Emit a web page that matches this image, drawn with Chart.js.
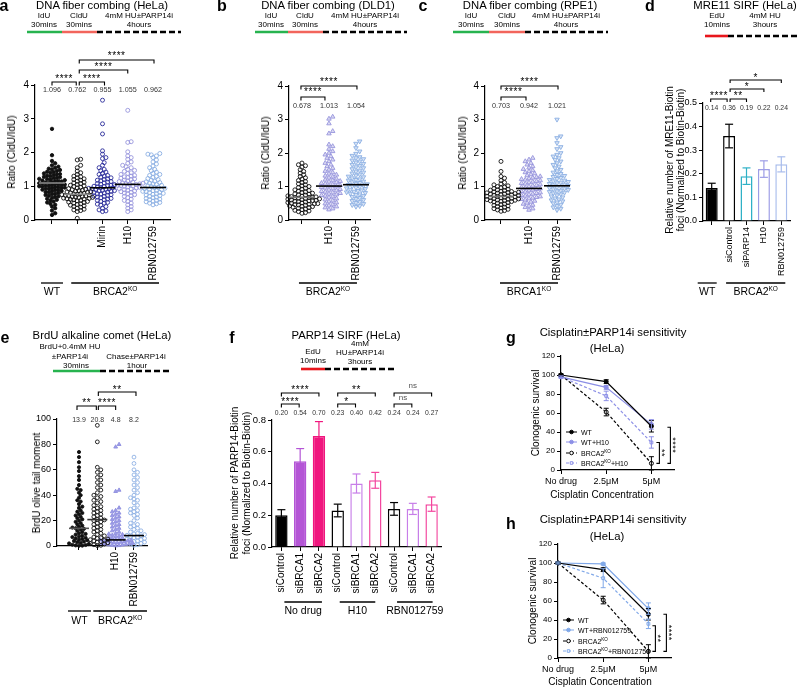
<!DOCTYPE html>
<html><head><meta charset="utf-8"><title>PARP14 figure</title>
<script src="https://cdn.jsdelivr.net/npm/chart.js@4.4.1/dist/chart.umd.min.js"></script>
<style>
html,body{margin:0;padding:0;background:#fff;}
#wrap{position:relative;width:800px;height:688px;overflow:hidden;font-family:'Liberation Sans',Arial,Helvetica,sans-serif;color:#000;}
#wrap canvas{position:absolute;left:0;top:0;}
#wrap svg{position:absolute;left:0;top:0;}
.t{position:absolute;white-space:nowrap;line-height:1;transform:translate(-50%,-50%);}
.t sup{font-size:0.62em;line-height:0;vertical-align:0.55em;}
</style></head>
<body><div id="wrap"><svg id="deco" width="800" height="688"></svg></div>
<script>
// ================= DATA =================
// Panel a: DNA fiber combing (HeLa) - CldU/IdU ratio
const aTickLabels = ['', '', 'Mirin', 'H10', 'RBN012759'];
const aMeans = [1.096, 0.762, 0.955, 1.055, 0.962];
const aWT = [2.70,1.92,1.75,1.68,1.62,1.58,1.55,1.52,1.50,1.48,1.45,1.43,1.42,1.40,1.38,1.36,1.35,1.33,1.31,1.30,1.28,1.27,1.25,1.24,1.22,1.21,1.20,1.18,1.17,1.16,1.15,1.14,1.12,1.11,1.10,1.09,1.08,1.07,1.06,1.05,1.04,1.03,1.02,1.01,1.00,0.99,0.98,0.97,0.96,0.95,0.94,0.93,0.92,0.90,0.89,0.88,0.86,0.85,0.83,0.82,0.80,0.78,0.76,0.74,0.72,0.70,0.68,0.66,0.63,0.60,0.58,0.55,0.52,0.48,0.45,0.40,0.35,0.28,0.20,0.15];
const aKO = [1.80,1.78,1.62,1.55,1.45,1.40,1.35,1.30,1.28,1.25,1.22,1.20,1.18,1.15,1.12,1.10,1.08,1.05,1.03,1.01,0.99,0.97,0.95,0.93,0.91,0.90,0.88,0.87,0.85,0.84,0.83,0.82,0.80,0.79,0.78,0.77,0.76,0.75,0.74,0.73,0.72,0.71,0.70,0.69,0.68,0.67,0.66,0.65,0.64,0.63,0.62,0.61,0.60,0.58,0.57,0.55,0.53,0.52,0.50,0.48,0.46,0.44,0.42,0.40,0.38,0.35,0.32,0.30,0.28,0.25,0.05];
const aMirin = [3.55,2.85,2.55,2.05,1.95,1.85,1.82,1.70,1.62,1.55,1.50,1.46,1.42,1.38,1.35,1.32,1.30,1.27,1.25,1.22,1.20,1.18,1.16,1.14,1.12,1.10,1.08,1.06,1.05,1.03,1.02,1.00,0.99,0.98,0.96,0.95,0.94,0.93,0.92,0.91,0.90,0.88,0.87,0.86,0.85,0.83,0.82,0.80,0.78,0.77,0.75,0.73,0.71,0.70,0.68,0.66,0.64,0.62,0.60,0.58,0.55,0.52,0.50,0.47,0.44,0.40,0.35,0.30,0.27,0.25];
const aH10 = [3.25,2.32,2.30,2.02,1.90,1.85,1.80,1.72,1.68,1.62,1.58,1.55,1.50,1.47,1.44,1.40,1.38,1.35,1.32,1.30,1.28,1.26,1.24,1.22,1.20,1.18,1.16,1.14,1.12,1.10,1.09,1.08,1.07,1.06,1.05,1.04,1.03,1.02,1.01,1.00,0.98,0.97,0.95,0.93,0.92,0.90,0.88,0.86,0.84,0.82,0.80,0.78,0.75,0.72,0.70,0.66,0.62,0.58,0.55,0.50,0.45,0.40,0.35,0.30,0.25];
const aRBN = [1.97,1.95,1.93,1.90,1.85,1.78,1.72,1.66,1.60,1.55,1.50,1.46,1.42,1.38,1.35,1.32,1.29,1.26,1.23,1.20,1.18,1.15,1.13,1.11,1.09,1.07,1.05,1.03,1.01,0.99,0.97,0.96,0.94,0.93,0.91,0.90,0.88,0.87,0.85,0.84,0.82,0.81,0.79,0.78,0.76,0.74,0.72,0.70,0.68,0.66,0.64,0.62,0.60,0.58,0.56,0.54,0.52,0.50,0.48,0.45];

// Panel b: DNA fiber combing (DLD1)
const bTickLabels = ['', 'H10', 'RBN012759'];
const bMeans = [0.678, 1.013, 1.054];
const bKO = [1.70,1.65,1.62,1.58,1.50,1.45,1.40,1.35,1.30,1.26,1.22,1.18,1.15,1.12,1.08,1.05,1.02,1.00,0.97,0.95,0.92,0.90,0.88,0.86,0.84,0.82,0.80,0.78,0.77,0.75,0.74,0.72,0.71,0.70,0.69,0.68,0.67,0.66,0.65,0.64,0.63,0.62,0.61,0.60,0.59,0.58,0.57,0.56,0.55,0.54,0.53,0.52,0.51,0.50,0.49,0.48,0.47,0.46,0.45,0.44,0.42,0.41,0.40,0.38,0.37,0.35,0.33,0.31,0.29,0.27,0.25,0.22,0.20];
const bH10 = [3.08,3.02,2.88,2.65,2.58,2.25,2.20,2.12,2.05,2.00,1.95,1.90,1.85,1.80,1.75,1.70,1.65,1.60,1.55,1.50,1.46,1.42,1.38,1.35,1.32,1.29,1.26,1.23,1.20,1.18,1.16,1.14,1.12,1.10,1.08,1.06,1.04,1.02,1.00,0.98,0.96,0.94,0.92,0.90,0.88,0.86,0.84,0.82,0.80,0.78,0.76,0.74,0.72,0.70,0.67,0.64,0.61,0.58,0.55,0.52,0.49,0.46,0.43,0.40,0.37,0.34,0.31];
const bRBN = [2.35,2.28,2.15,2.05,1.98,1.92,1.88,1.85,1.82,1.78,1.75,1.72,1.68,1.65,1.62,1.58,1.55,1.52,1.48,1.45,1.42,1.39,1.36,1.33,1.30,1.28,1.25,1.22,1.20,1.18,1.15,1.13,1.11,1.09,1.07,1.05,1.03,1.01,0.99,0.97,0.95,0.93,0.91,0.89,0.87,0.85,0.83,0.81,0.79,0.77,0.75,0.72,0.69,0.66,0.63,0.60,0.57,0.54,0.51,0.48,0.45,0.42,0.40];

// Panel c: DNA fiber combing (RPE1)
const cTickLabels = ['', 'H10', 'RBN012759'];
const cMeans = [0.703, 0.942, 1.021];
const cKO = [1.75,1.45,1.30,1.25,1.18,1.12,1.08,1.05,1.02,1.00,0.98,0.96,0.94,0.92,0.90,0.89,0.88,0.86,0.85,0.84,0.83,0.82,0.81,0.80,0.79,0.78,0.77,0.76,0.75,0.74,0.73,0.72,0.71,0.70,0.69,0.68,0.67,0.66,0.65,0.64,0.63,0.62,0.61,0.60,0.59,0.58,0.57,0.56,0.55,0.54,0.52,0.50,0.48,0.46,0.44,0.42,0.40,0.38,0.36,0.34,0.32,0.30,0.28,0.26];
const cH10 = [1.85,1.80,1.75,1.70,1.65,1.60,1.56,1.52,1.48,1.45,1.42,1.39,1.36,1.33,1.30,1.28,1.26,1.24,1.22,1.20,1.18,1.16,1.14,1.12,1.10,1.08,1.06,1.04,1.02,1.00,0.98,0.96,0.94,0.92,0.90,0.88,0.86,0.84,0.82,0.80,0.78,0.76,0.74,0.72,0.70,0.68,0.66,0.64,0.62,0.60,0.57,0.54,0.51,0.48,0.45,0.42,0.38,0.34,0.30];
const cRBN = [3.00,2.50,2.45,2.30,2.18,2.12,2.00,1.95,1.90,1.85,1.80,1.75,1.70,1.65,1.60,1.55,1.50,1.46,1.42,1.38,1.35,1.32,1.29,1.26,1.23,1.20,1.18,1.16,1.14,1.12,1.10,1.08,1.06,1.04,1.02,1.00,0.98,0.96,0.94,0.92,0.90,0.88,0.86,0.84,0.82,0.80,0.77,0.74,0.71,0.68,0.65,0.62,0.59,0.56,0.53,0.50,0.46,0.42,0.38,0.34,0.30];

// Panel d: MRE11 SIRF (HeLa)
const dTickLabels = ['', 'siControl', 'siPARP14', 'H10', 'RBN012759'];
const dMeans = [0.14, 0.36, 0.19, 0.22, 0.24];
const dErr = [0.02, 0.05, 0.035, 0.035, 0.032];

// Panel e: BrdU alkaline comet (HeLa)
const eTickLabels = ['', '', 'H10', 'RBN012759'];
const eMeans = [13.9, 20.8, 4.8, 8.2];
const eWT = [74,70,66,62,59,55,52,48,45,44,42,40,38,36,35,33,31,30,28,27,26,25,24,23,22,21,20,19,18,17,16,15,14.5,14,13.5,13,12,11,10,9.5,9,8,7.5,7,6.5,6,5.5,5,4.5,4,3.5,3,2.5,2,1.5,1,0.8,0.5,0.3,0.2];
const eKO = [95,82,62,60,58,56,54,52,50,48,46,44,42,40,39,38,36,35,34,32,31,30,29,28,27,26,25,24,23,22,21,20.5,20,19,18,17,16,15,14,13,12,11,10,9,8,7,6.5,6,5.5,5,4.5,4,3.5,3,2.5,2,1.5,1,0.5,0.3];
const eH10 = [80,78,44,43,30,28,27,26,25,24,23,22,21,20,19,18,17,16,15,14,13,12,11,10,9.5,9,8.5,8,7.5,7,6.5,6,5.5,5,4.8,4.5,4.2,4,3.8,3.5,3.2,3,2.8,2.5,2.2,2,1.8,1.5,1.2,1,0.8,0.6,0.4,0.2];
const eRBN = [70,65,60,58,56,54,52,50,48,46,44,42,40,38,37,36,34,32,30,29,28,27,26,25,24,22,20,18,17,16,15,14,13,12,11,10,9.5,9,8.5,8,7.5,7,6.5,6,5.5,5,4.5,4,3.5,3,2.5,2,1.5,1,0.5];

// Panel f: PARP14 SIRF (HeLa)
const fTickLabels = ['siControl','siBRCA1','siBRCA2','siControl','siBRCA1','siBRCA2','siControl','siBRCA1','siBRCA2'];
const fMeans = [0.20, 0.54, 0.70, 0.23, 0.40, 0.42, 0.24, 0.24, 0.27];
const fErr = [0.035, 0.08, 0.09, 0.04, 0.06, 0.05, 0.04, 0.035, 0.045];

// Panels g / h: clonogenic survival
const doseIdx = [0, 1, 2];
const doseLabels = ['No drug', '2.5\u03bcM', '5\u03bcM'];
const gWT = [100, 93, 46],      gWTErr = [1, 2, 6];
const gWTH10 = [98, 87, 48],    gWTH10Err = [1, 2, 5];
const gKO = [100, 61, 7],       gKOErr = [1, 4, 7];
const gKOH10 = [98, 78, 29],    gKOH10Err = [1, 5, 6];
const hWT = [100, 93, 46],      hWTErr = [1, 2, 6];
const hWTRBN = [100, 99, 52],   hWTRBNErr = [1, 1, 6];
const hKO = [100, 61, 7],       hKOErr = [1, 4, 7];
const hKORBN = [100, 84, 36],   hKORBNErr = [1, 10, 5];

// ================= SETUP =================
const F = "'Liberation Sans', Arial, sans-serif";
Chart.defaults.font.family = F;
Chart.defaults.color = '#000';
Chart.defaults.animation = false;
Chart.defaults.responsive = false;
Chart.defaults.devicePixelRatio = 1;
Chart.defaults.events = [];
Chart.defaults.plugins.legend.display = false;
Chart.defaults.plugins.tooltip.enabled = false;

const YW = 30;
const wrap = document.getElementById('wrap');
function canvas(){ const c=document.createElement('canvas'); c.width=800; c.height=688; c.style.width='800px'; c.style.height='688px'; wrap.appendChild(c); return c; }
function pad(L,R,T,B,XH){ return {padding:{left:L-YW,right:800-R,top:T,bottom:688-B-XH}}; }
const GRID = {drawOnChartArea:false, drawTicks:true, tickLength:4, tickWidth:1, tickColor:'#000', color:'#000'};
const BORDER = {display:true, color:'#000', width:1.2};
function yAxis(min,max,step,size,dec){
  return {type:'linear', min, max,
    afterFit:s=>{s.width=YW;},
    afterBuildTicks:s=>{const t=[]; for(let v=min; v<=max+1e-9; v+=step) t.push({value:+v.toFixed(6)}); s.ticks=t;},
    ticks:{font:{size}, padding:2, color:'#000', callback:v=> dec? Number(v).toFixed(dec) : String(v)},
    grid:GRID, border:BORDER};
}
function xLinCat(min,max,labels,size,rot,XH){
  return {type:'linear', min, max,
    afterFit:s=>{s.height=XH;},
    afterBuildTicks:s=>{s.ticks=labels.map((l,i)=>({value:i}));},
    ticks:{font:{size}, padding:2, color:'#000', minRotation:rot, maxRotation:rot, autoSkip:false, callback:v=>labels[v] ?? ''},
    grid:GRID, border:BORDER};
}
function xCat(size,XH){
  return {type:'category', offset:true, afterFit:s=>{s.height=XH;},
    ticks:{font:{size}, padding:2, color:'#000', minRotation:90, maxRotation:90, autoSkip:false},
    grid:Object.assign({offset:false}, GRID), border:BORDER};
}

// deterministic beeswarm placement (pixel based) of typed values
function swarm(vals, idx, pxX, pxY, d){
  const order = vals.map((v,i)=>i).sort((p,q)=>vals[p]-vals[q]);
  const placed=[], out=[];
  for(const i of order){
    const y = vals[i]*pxY; let off=0;
    for(let k=0;k<80;k++){
      const c = (k%2?1:-1)*Math.ceil(k/2)*d*0.55;
      let ok=true;
      for(const p of placed){ const dy=p.y-y; if(Math.abs(dy)<d && Math.hypot(p.x-c,dy)<d){ok=false;break;} }
      if(ok){off=c;break;}
    }
    placed.push({x:off,y}); out.push({x:idx+off/pxX, y:vals[i]});
  }
  return out;
}
function pts(data, style, color, fill, r, rot){
  return {data, pointStyle:style, pointRadius:r, pointHoverRadius:r, pointBorderColor:color, pointBackgroundColor:fill, pointBorderWidth:0.9, pointRotation:rot||0, showLine:false, clip:false};
}
function ser(label, ys, color, dash, style, fill){
  return {label, data:doseIdx.map((x,i)=>({x, y:ys[i]})), borderColor:color, backgroundColor:color, borderWidth:1.2, borderDash:dash,
    pointStyle:style, pointRadius:2, pointBorderWidth:1, pointBackgroundColor:fill, pointBorderColor:color, clip:false, tension:0};
}

// rich text (with ^superscript^) on canvas
function drawRich(ctx, s, x, y, size, color){
  const parts = s.split('^').map((t,i)=>({t, sup:i%2===1}));
  let w=0;
  parts.forEach(p=>{ctx.font=(p.sup?size*0.62:size)+'px '+F; p.w=ctx.measureText(p.t).width; w+=p.w;});
  let cx=x-w/2; ctx.textAlign='left'; ctx.textBaseline='alphabetic'; ctx.fillStyle=color||'#000';
  parts.forEach(p=>{ctx.font=(p.sup?size*0.62:size)+'px '+F; ctx.fillText(p.t, cx, p.sup? y+size*0.36-size*0.38 : y+size*0.36); cx+=p.w;});
}

const annot = {
  id:'annot',
  afterDatasetsDraw(chart, args, o){
    const ctx=chart.ctx, xs=chart.scales.x, ys=chart.scales.y;
    const X=v=>xs.getPixelForValue(v), Y=v=>ys.getPixelForValue(v);
    const seg=(x1,y1,x2,y2)=>{ctx.beginPath(); ctx.moveTo(x1,y1); ctx.lineTo(x2,y2); ctx.stroke();};
    ctx.save(); ctx.setLineDash([]);
    if(o.barErr){
      const meta=chart.getDatasetMeta(0), ds=chart.data.datasets[0];
      o.barErr.forEach((e,i)=>{
        const el=meta.data[i], v=ds.data[i];
        ctx.strokeStyle=ds.borderColor[i]; ctx.lineWidth=1.2;
        const y1=Y(v+e), y2=Y(v-e), hw=o.capW;
        seg(el.x,y1,el.x,y2); seg(el.x-hw,y1,el.x+hw,y1); seg(el.x-hw,y2,el.x+hw,y2);
      });
    }
    if(o.lineErr){
      o.lineErr.forEach((errs,di)=>{
        const meta=chart.getDatasetMeta(di), ds=chart.data.datasets[di];
        ctx.strokeStyle=ds.borderColor; ctx.lineWidth=1;
        errs.forEach((e,i)=>{ const el=meta.data[i], v=ds.data[i].y; const y1=Y(v+e), y2=Y(v-e);
          seg(el.x,y1,el.x,y2); seg(el.x-2.5,y1,el.x+2.5,y1); seg(el.x-2.5,y2,el.x+2.5,y2); });
      });
    }
    if(o.means){
      o.means.forEach((m,i)=>{ ctx.strokeStyle=o.meanColors[i]; ctx.lineWidth=1.6; seg(X(i)-o.meanHW, Y(m), X(i)+o.meanHW, Y(m)); });
    }
    if(o.meanText){
      ctx.fillStyle='#333'; ctx.font=o.meanSize+'px '+F; ctx.textAlign='center'; ctx.textBaseline='middle';
      o.meanText.forEach((t,i)=>ctx.fillText(t, X(i), o.meanY));
    }
    if(o.brackets){
      ctx.strokeStyle='#000'; ctx.lineWidth=1.1;
      o.brackets.forEach(b=>{
        const x1=X(b.a)+(b.ia||0), x2=X(b.b)+(b.ib||0), L=o.legLen||3.5;
        ctx.beginPath(); ctx.moveTo(x1,b.y+L); ctx.lineTo(x1,b.y); ctx.lineTo(x2,b.y); ctx.lineTo(x2,b.y+L); ctx.stroke();
        const ns = b.t==='ns';
        ctx.fillStyle= ns?'#555':'#000';
        ctx.font=(ns?8:10)+'px '+F; ctx.textAlign='center'; ctx.textBaseline='alphabetic';
        ctx.letterSpacing = ns?'0px':'0.6px';
        ctx.fillText(b.t, (x1+x2)/2, b.ty + (ns?8*0.28:10*0.58));
        ctx.letterSpacing='0px';
      });
    }
    if(o.vbr){
      ctx.strokeStyle='#000'; ctx.lineWidth=1.1;
      o.vbr.forEach(b=>{
        const x=X(b.x)+b.off, y1=Y(b.v1), y2=Y(b.v2);
        ctx.beginPath(); ctx.moveTo(x-3,y1); ctx.lineTo(x,y1); ctx.lineTo(x,y2); ctx.lineTo(x-3,y2); ctx.stroke();
        ctx.save(); ctx.translate(x+5,(y1+y2)/2); ctx.rotate(Math.PI/2);
        ctx.fillStyle='#000'; ctx.font='9px '+F; ctx.textAlign='center'; ctx.textBaseline='alphabetic'; ctx.letterSpacing='0.5px';
        ctx.fillText(b.t,0,9*0.58); ctx.restore();
      });
    }
    if(o.groups){
      ctx.strokeStyle='#000'; ctx.lineWidth=1.3;
      o.groups.forEach(g=>{ const x1=X(g.a)-g.ea, x2=X(g.b)+g.eb; seg(x1,g.y,x2,g.y); drawRich(ctx,g.t,(x1+x2)/2,g.ty,o.groupSize||10.5); });
    }
    if(o.legend){
      const lg=o.legend;
      chart.data.datasets.forEach((ds,i)=>{
        const y=lg.rows[i];
        ctx.strokeStyle=ds.borderColor; ctx.lineWidth=1; ctx.setLineDash(ds.borderDash||[]);
        seg(lg.x, y, lg.x+11, y); ctx.setLineDash([]);
        ctx.fillStyle=ds.pointBackgroundColor; ctx.strokeStyle=ds.borderColor;
        Chart.helpers.drawPoint(ctx,{pointStyle:ds.pointStyle, radius:1.8, borderWidth:1, rotation:0}, lg.x+5.5, y);
        ctx.fillStyle='#000';
        const parts=ds.label.split('^'); let cx=lg.x+15;
        parts.forEach((t,k)=>{ const sz = k%2? lg.size*0.65 : lg.size; ctx.font=sz+'px '+F; ctx.textAlign='left'; ctx.textBaseline='alphabetic';
          ctx.fillText(t, cx, k%2 ? y+lg.size*0.36-lg.size*0.38 : y+lg.size*0.36); cx+=ctx.measureText(t).width; });
      });
    }
    ctx.restore();
  }
};

// ================= COLOURS =================
const BLK='#111', MIRIN='#2b2e9b', LAV='#9795dd', LBLUE='#8cb0e3', NONE='rgba(255,255,255,0)';
const fmt3 = a=>a.map(v=>v.toFixed(3));

// ================= PANEL a =================
new Chart(canvas(), {type:'scatter',
  data:{datasets:[
    pts(swarm(aWT,0,25.25,33.75,2.9),'circle',BLK,BLK,1.7),
    pts(swarm(aKO,1,25.25,33.75,3.1),'circle',BLK,NONE,2),
    pts(swarm(aMirin,2,25.25,33.75,3.1),'circle',MIRIN,NONE,2),
    pts(swarm(aH10,3,25.25,33.75,3.1),'circle',LAV,NONE,2),
    pts(swarm(aRBN,4,25.25,33.75,3.1),'circle',LBLUE,NONE,2)]},
  options:{layout:pad(35,170,85,220,80), scales:{x:xLinCat(-0.673,4.673,aTickLabels,10,90,80), y:yAxis(0,4,1,10)},
    plugins:{annot:{means:aMeans, meanColors:['#888','#888','#000','#000','#000'], meanHW:13,
      meanText:fmt3(aMeans), meanY:90, meanSize:7.2, legLen:3.5,
      brackets:[{a:0,b:1,y:82,t:'****',ty:76,ia:0,ib:-1},{a:1,b:2,y:82,t:'****',ty:76,ia:2,ib:2},
                {a:1,b:3,y:70,t:'****',ty:64,ia:2,ib:0},{a:1,b:4,y:60,t:'****',ty:53,ia:2,ib:1}],
      groups:[{a:0,b:0,ea:11,eb:11,y:283,t:'WT',ty:291},{a:1,b:4,ea:6,eb:6,y:283,t:'BRCA2^KO^',ty:291}]}}},
  plugins:[annot]});

// ================= PANEL b =================
new Chart(canvas(), {type:'scatter',
  data:{datasets:[
    pts(swarm(bKO,0,27,33.5,3.2),'circle',BLK,NONE,2),
    pts(swarm(bH10,1,27,33.5,3.4),'triangle',LAV,'rgba(151,149,221,0.35)',2.6),
    pts(swarm(bRBN,2,27,33.5,3.4),'triangle',LBLUE,'rgba(140,176,227,0.35)',2.6,180)]},
  options:{layout:pad(289,370,86,220,80), scales:{x:xLinCat(-0.48,2.52,bTickLabels,10,90,80), y:yAxis(0,4,1,10)},
    plugins:{annot:{means:bMeans, meanColors:['#777','#000','#000'], meanHW:13,
      meanText:fmt3(bMeans), meanY:106, meanSize:7.2,
      brackets:[{a:0,b:1,y:97,t:'****',ty:89,ia:-1,ib:-4},{a:0,b:2,y:86,t:'****',ty:79,ia:-1,ib:1}],
      groups:[{a:0,b:2,ea:3,eb:1,y:283,t:'BRCA2^KO^',ty:291}]}}},
  plugins:[annot]});

// ================= PANEL c =================
new Chart(canvas(), {type:'scatter',
  data:{datasets:[
    pts(swarm(cKO,0,28,33.5,3.2),'circle',BLK,NONE,2),
    pts(swarm(cH10,1,28,33.5,3.4),'triangle',LAV,'rgba(151,149,221,0.35)',2.6),
    pts(swarm(cRBN,2,28,33.5,3.4),'triangle',LBLUE,'rgba(140,176,227,0.35)',2.6,180)]},
  options:{layout:pad(485,570,86,220,80), scales:{x:xLinCat(-0.571,2.464,cTickLabels,10,90,80), y:yAxis(0,4,1,10)},
    plugins:{annot:{means:cMeans, meanColors:['#777','#000','#000'], meanHW:13,
      meanText:fmt3(cMeans), meanY:106, meanSize:7.2,
      brackets:[{a:0,b:1,y:97,t:'****',ty:89,ia:0,ib:-3},{a:0,b:2,y:86,t:'****',ty:79,ia:0,ib:1}],
      groups:[{a:0,b:2,ea:1,eb:1,y:283,t:'BRCA1^KO^',ty:291}]}}},
  plugins:[annot]});

// ================= PANEL d =================
new Chart(canvas(), {type:'bar',
  data:{labels:dTickLabels, datasets:[{data:dMeans,
    backgroundColor:['#000','#fff','#fff','#fff','#fff'],
    borderColor:['#000','#000','#2fb1c6','#9d9de6','#a9bdec'],
    borderWidth:1.5, barPercentage:0.69, categoryPercentage:1}]},
  options:{layout:pad(703,790,103,221,80), scales:{x:xCat(9,80), y:yAxis(0,0.5,0.1,9,1)},
    plugins:{annot:{barErr:dErr, capW:4,
      meanText:dMeans.map(v=>v.toFixed(2)), meanY:108, meanSize:6.8, legLen:3,
      brackets:[{a:0,b:1,y:99,t:'****',ty:93,ia:-1,ib:-2},{a:1,b:2,y:99,t:'**',ty:93,ia:1,ib:0},
                {a:1,b:3,y:89,t:'*',ty:84,ia:1,ib:0},{a:1,b:4,y:80,t:'*',ty:75,ia:1,ib:0}],
      groups:[{a:0,b:0,ea:14,eb:5,y:283,t:'WT',ty:291},{a:1,b:4,ea:3,eb:4,y:283,t:'BRCA2^KO^',ty:291}]}}},
  plugins:[annot]});

// ================= PANEL e =================
new Chart(canvas(), {type:'scatter',
  data:{datasets:[
    pts(swarm(eWT,0,18.33,1.27,3.0),'circle',BLK,BLK,1.6),
    pts(swarm(eKO,1,18.33,1.27,3.2),'circle',BLK,NONE,1.9),
    pts(swarm(eH10,2,18.33,1.27,3.1),'triangle','#8f8fe0','#9d9de6',2.2),
    pts(swarm(eRBN,3,18.33,1.27,3.2),'circle','#8eb1e4',NONE,1.9)]},
  options:{layout:pad(57,147,419,546,80), scales:{x:xLinCat(-1.2,3.71,eTickLabels,10,90,80), y:yAxis(0,100,20,9)},
    plugins:{annot:{means:eMeans, meanColors:['#555','#333','#000','#000'], meanHW:10,
      meanText:eMeans.map(v=>v.toFixed(1)), meanY:420, meanSize:7, legLen:4,
      brackets:[{a:0,b:1,y:406,t:'**',ty:400,ia:-2,ib:-1},{a:1,b:2,y:406,t:'****',ty:400,ia:1,ib:0},
                {a:1,b:3,y:392,t:'**',ty:387,ia:1,ib:2}],
      groups:[{a:0,b:0,ea:11,eb:12,y:611,t:'WT',ty:620},{a:1,b:3,ea:4,eb:13,y:611,t:'BRCA2^KO^',ty:620}]}}},
  plugins:[annot]});

// ================= PANEL f =================
new Chart(canvas(), {type:'bar',
  data:{labels:fTickLabels, datasets:[{data:fMeans,
    backgroundColor:['#000','#b455d6','#f0167e','#fff','#fff','#fff','#fff','#fff','#fff'],
    borderColor:['#000','#b455d6','#f0167e','#000','#c77ee8','#f3479f','#000','#c77ee8','#f3479f'],
    borderWidth:1.5, barPercentage:0.66, categoryPercentage:1}]},
  options:{layout:pad(272,441,420,547,80), scales:{x:xCat(10,80), y:yAxis(0,0.8,0.2,9.5,1)},
    plugins:{annot:{barErr:fErr, capW:4,
      meanText:fMeans.map(v=>v.toFixed(2)), meanY:413, meanSize:6.8, legLen:3.5,
      brackets:[{a:0,b:1,y:404,t:'****',ty:399,ia:0,ib:-1},{a:0,b:2,y:393,t:'****',ty:387,ia:0,ib:0},
                {a:3,b:4,y:404,t:'*',ty:399,ia:0,ib:-1},{a:3,b:5,y:393,t:'**',ty:387,ia:0,ib:0},
                {a:6,b:7,y:404,t:'ns',ty:398,ia:0,ib:-1},{a:6,b:8,y:393,t:'ns',ty:386,ia:0,ib:0}],
      groups:[{a:0,b:2,ea:-3,eb:3,y:602,t:'No drug',ty:610},{a:3,b:5,ea:-2,eb:0,y:602,t:'H10',ty:610},
              {a:6,b:8,ea:-3,eb:1,y:602,t:'RBN012759',ty:610}]}}},
  plugins:[annot]});

// ================= PANEL g =================
const H10C='#8c8fe6', RBNC='#80a8e8';
new Chart(canvas(), {type:'line',
  data:{datasets:[
    ser('WT', gWT, '#000', [], 'circle', '#000'),
    ser('WT+H10', gWTH10, H10C, [], 'circle', H10C),
    ser('BRCA2^KO^', gKO, '#000', [3,2], 'circle', '#fff'),
    ser('BRCA2^KO^+H10', gKOH10, H10C, [3,2], 'rect', '#fff')]},
  options:{layout:pad(561,674,356,470,30), scales:{x:xLinCat(0,2.5,doseLabels,9,0,30), y:yAxis(0,120,20,8)},
    plugins:{annot:{lineErr:[gWTErr,gWTH10Err,gKOErr,gKOH10Err],
      vbr:[{x:2,off:8,v1:29,v2:7,t:'**'},{x:2,off:19,v1:45,v2:7,t:'****'}],
      legend:{x:566,rows:[432,442,453,463],size:7}}}},
  plugins:[annot]});

// ================= PANEL h =================
new Chart(canvas(), {type:'line',
  data:{datasets:[
    ser('WT', hWT, '#000', [], 'circle', '#000'),
    ser('WT+RBN012759', hWTRBN, RBNC, [], 'circle', RBNC),
    ser('BRCA2^KO^', hKO, '#000', [3,2], 'circle', '#fff'),
    ser('BRCA2^KO^+RBN012759', hKORBN, RBNC, [3,2], 'rect', '#fff')]},
  options:{layout:pad(558,671,544,658,30), scales:{x:xLinCat(0,2.5,doseLabels,9,0,30), y:yAxis(0,120,20,8)},
    plugins:{annot:{lineErr:[hWTErr,hWTRBNErr,hKOErr,hKORBNErr],
      vbr:[{x:2,off:7,v1:34,v2:7,t:'**'},{x:2,off:18,v1:46,v2:7,t:'****'}],
      legend:{x:563,rows:[620,630,641,651],size:7}}}},
  plugins:[annot]});

// ================= STATIC DECORATION (timelines) =================
const GREEN='#27b34f', SALMON='#f2655c', RED='#e8161c';
const TL = [
  [27,62,32,GREEN,0],[62,97,32,SALMON,0],[97,181,32,'#000',1],
  [255,288,32,GREEN,0],[288,323,32,SALMON,0],[323,407,32,'#000',1],
  [453,489,32,GREEN,0],[489,525,32,SALMON,0],[525,608,32,'#000',1],
  [705,728,36,RED,0],[728,800,36,'#000',1],
  [53,100,371,GREEN,0],[100,172,371,'#000',1],
  [301,325,369,RED,0],[325,396,369,'#000',1]
];
const svg=document.getElementById('deco');
svg.innerHTML = TL.map(l=>`<line x1="${l[0]}" y1="${l[2]}" x2="${l[1]}" y2="${l[2]}" stroke="${l[3]}" stroke-width="2.6" ${l[4]?'stroke-dasharray="6 3"':''}/>`).join('');

// ================= TEXT =================
const TXT = [
 ['a',4,6,16,'b'],['b',222,6,16,'b'],['c',423,6,16,'b'],['d',650,6,16,'b'],
 ['e',5,338,16,'b'],['f',232,338,16,'b'],['g',511,338,16,'b'],['h',511,524,16,'b'],
 ['DNA fiber combing (HeLa)',102,6,11.3],['DNA fiber combing (DLD1)',328,6,11.3],['DNA fiber combing (RPE1)',530,6,11.3],['MRE11 SIRF (HeLa)',745,6,11.3],
 ['BrdU alkaline comet (HeLa)',102,336,11.3],['PARP14 SIRF (HeLa)',346,336,11.3],
 ['Cisplatin\u00b1PARP14i sensitivity',613,333,11.3],['(HeLa)',607,349,11.3],
 ['Cisplatin\u00b1PARP14i sensitivity',613,520,11.3],['(HeLa)',607,537,11.3],
 ['IdU',44,16,8],['30mins',44,25,8],['CldU',79,16,8],['30mins',79,25,8],['4mM HU\u00b1PARP14i',139,16,8],['4hours',139,25,8],
 ['IdU',271,16,8],['30mins',271,25,8],['CldU',305,16,8],['30mins',305,25,8],['4mM HU\u00b1PARP14i',365,16,8],['4hours',365,25,8],
 ['IdU',471,16,8],['30mins',471,25,8],['CldU',507,16,8],['30mins',507,25,8],['4mM HU\u00b1PARP14i',566,16,8],['4hours',566,25,8],
 ['EdU',717,16,8],['10mins',717,25,8],['4mM HU',765,16,8],['3hours',765,25,8],
 ['BrdU+0.4mM HU',70,347,8],['\u00b1PARP14i',70,357,8],['30mins',76,366,8],['Chase\u00b1PARP14i',136,357,8],['1hour',137,366,8],
 ['EdU',313,352,8],['10mins',313,361,8],['4mM',360,344,8],['HU\u00b1PARP14i',360,353,8],['3hours',360,362,8],
 ['Ratio (CldU/IdU)',12,152,10,'r'],['Ratio (CldU/IdU)',266,153,10,'r'],['Ratio (CldU/IdU)',463,153,10,'r'],
 ['Relative number of MRE11-Biotin',670,160,10,'r'],['foci (Normalized to Biotin-Biotin)',681,160,10,'r'],
 ['BrdU olive tail moment',37,483,10,'r'],
 ['Relative number of PARP14-Biotin',235,483,10,'r'],['foci (Normalized to Biotin-Biotin)',247,483,10,'r'],
 ['Clonogenic survival',536,413,10,'r'],['Cisplatin Concentration',602,495,10],
 ['Clonogenic survival',533,601,10,'r'],['Cisplatin Concentration',600,682,10]
];
TXT.forEach(([s,x,y,size,opt])=>{
  const d=document.createElement('div'); d.className='t';
  d.innerHTML=s.replace(/\^([^^]*)\^/g,'<sup>$1</sup>');
  d.style.left=x+'px'; d.style.top=y+'px'; d.style.fontSize=size+'px';
  if(opt==='r') d.style.transform='translate(-50%,-50%) rotate(-90deg)';
  if(opt==='b') d.style.fontWeight='bold';
  wrap.appendChild(d);
});
</script></body></html>
